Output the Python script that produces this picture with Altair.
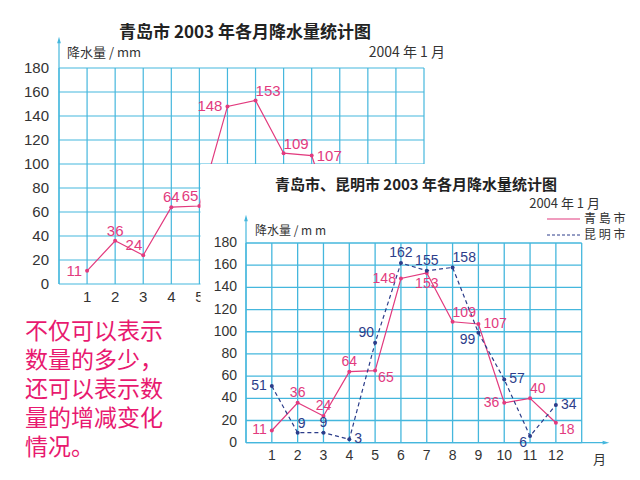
import altair as alt
import pandas as pd

# ---------------- data ----------------
months = list(range(1, 13))
qingdao = [11, 36, 24, 64, 65, 148, 153, 109, 107, 36, 40, 18]
kunming = [51, 9, 9, 3, 90, 162, 155, 158, 99, 57, 6, 34]
y_ticks = [0, 20, 40, 60, 80, 100, 120, 140, 160, 180]
x_ticks = months
grid_months = list(range(0, 14))

title_back = "青岛市 2003 年各月降水量统计图"
title_front = "青岛市、昆明市 2003 年各月降水量统计图"
date_text = "2004 年 1 月"
ylabel_back = "降水量 / mm"
ylabel_front = "降水量 / m m"
legend_names = ["青 島 市", "昆 明 市"]
x_unit = "月"
note_lines = ["不仅可以表示", "数量的多少，", "还可以表示数", "量的增减变化", "情况。"]

# ---------------- label placement (style) ----------------
pos_back_qd = ['l', 't', 'tl', 't', 'tl', 'l', 'tr', 'tr', 'r', 'l', 'tr', 'br']
pos_front_qd = ['l', 't', 't', 't', 'br', 'l', 'b', 'tr', 'r', 'l', 'tr', 'br']
pos_front_km = ['l', 'tr', 't', 'r', 'tl', 't', 't', 'tr', 'bl', 'r', 'bl', 'r']

STY = {
    'l': dict(align='right', dx=-5, dy=0),
    'r': dict(align='left', dx=5, dy=0),
    't': dict(align='center', dx=0, dy=-10),
    'b': dict(align='center', dx=0, dy=11),
    'tl': dict(align='right', dx=-1, dy=-10),
    'tr': dict(align='left', dx=0, dy=-9),
    'bl': dict(align='right', dx=-3, dy=7),
    'br': dict(align='left', dx=3, dy=7),
}

PINK = "#e23a7e"
NAVY = "#2c3d8a"
GRID = "#45b7dd"
TXT = "#333333"
NOTE = "#e8196f"
CJK = "Noto Sans CJK SC"
NUM = "Liberation Sans"

bx = alt.Scale(domain=[0, 13], range=[59, 424], nice=False, zero=False)
by = alt.Scale(domain=[0, 180], range=[284, 68], nice=False, zero=False)
fx = alt.Scale(domain=[0, 13], range=[246, 581.7], nice=False, zero=False)
fy = alt.Scale(domain=[0, 180], range=[442.7, 243], nice=False, zero=False)

# the front panel hides the back chart beyond these months
BACK_LABEL_LAST = 9
BACK_TICK_LAST = 5

one = pd.DataFrame({'a': [0]})


def X(f, s):
    return alt.X(f, type='quantitative', scale=s, axis=None)


def Y(f, s):
    return alt.Y(f, type='quantitative', scale=s, axis=None)


def grid(sx, sy, w):
    v = pd.DataFrame({'m': grid_months, 'lo': 0, 'hi': 180})
    h = pd.DataFrame({'t': y_ticks, 'lo': 0, 'hi': 13})
    vr = alt.Chart(v).mark_rule(color=GRID, strokeWidth=w).encode(
        x=X('m', sx), y=Y('lo', sy), y2='hi')
    hr = alt.Chart(h).mark_rule(color=GRID, strokeWidth=w).encode(
        y=Y('t', sy), x=X('lo', sx), x2='hi')
    return [vr, hr]


def series(vals, sx, sy, color, dash=None):
    d = pd.DataFrame({'month': months, 'v': vals})
    kw = dict(color=color, strokeWidth=1.2)
    if dash:
        kw['strokeDash'] = dash
    line = alt.Chart(d).mark_line(**kw).encode(x=X('month', sx), y=Y('v', sy))
    pts = alt.Chart(d).mark_point(filled=True, size=16, color=color, opacity=1).encode(
        x=X('month', sx), y=Y('v', sy))
    return [line, pts]


def labels(vals, pos, sx, sy, color, size, last=12):
    d = pd.DataFrame({'month': months, 'v': vals, 'p': pos})
    d = d[d.month <= last]
    out = []
    for code, st in STY.items():
        sub = d[d.p == code]
        if len(sub) == 0:
            continue
        out.append(alt.Chart(sub).mark_text(color=color, fontSize=size, font=NUM,
                                            baseline='middle', **st).encode(
            x=X('month', sx), y=Y('v', sy), text=alt.Text('v:Q')))
    return out


def ticklabels(sx, sy, size, ydx, xdy, last=12):
    yl = alt.Chart(pd.DataFrame({'t': y_ticks, 'z': 0})).mark_text(
        align='right', baseline='middle', dx=ydx, fontSize=size, font=NUM, color=TXT).encode(
        x=X('z', sx), y=Y('t', sy), text=alt.Text('t:Q'))
    xl = alt.Chart(pd.DataFrame({'m': [m for m in x_ticks if m <= last], 'z': 0})).mark_text(
        align='center', baseline='middle', dy=xdy, fontSize=size, font=NUM, color=TXT).encode(
        x=X('m', sx), y=Y('z', sy), text=alt.Text('m:Q'))
    return [yl, xl]


def vtext(txt, x, y, size, color=TXT, align='left', bold=False, font=CJK):
    return alt.Chart(one).mark_text(text=txt, fontSize=size, color=color, align=align,
                                    baseline='middle', font=font,
                                    fontWeight='bold' if bold else 'normal').encode(
        x=alt.value(x), y=alt.value(y))


def vrule(x, y, x2=None, y2=None, color=GRID, w=1.2, dash=None):
    kw = dict(color=color, strokeWidth=w)
    if dash:
        kw['strokeDash'] = dash
    enc = dict(x=alt.value(x), y=alt.value(y))
    if x2 is not None:
        enc['x2'] = alt.value(x2)
    if y2 is not None:
        enc['y2'] = alt.value(y2)
    return alt.Chart(one).mark_rule(**kw).encode(**enc)


def arrow(x, y, shape):
    return alt.Chart(one).mark_point(shape=shape, filled=True, size=45, color=GRID, opacity=1).encode(
        x=alt.value(x), y=alt.value(y))


UP = "M0,-1L0.55,1L-0.55,1Z"
RIGHT = "M1,0L-1,0.55L-1,-0.55Z"

layers = []
# ---------- back chart ----------
layers += grid(bx, by, 1.2)
layers.append(vrule(59, 42, y2=284))
layers.append(arrow(59, 40, UP))
layers += series(qingdao, bx, by, PINK)
layers += labels(qingdao, pos_back_qd, bx, by, PINK, 15, last=BACK_LABEL_LAST)
layers += ticklabels(bx, by, 15, -10, 13, last=BACK_TICK_LAST)
layers.append(vtext(title_back, 245, 33, 17, color="#222222", align='center', bold=True))
layers.append(vtext(ylabel_back, 67, 53, 13))
layers.append(vtext(date_text, 445, 53, 14, align='right'))

# ---------- white panel ----------
layers.append(alt.Chart(one).mark_rect(color='white').encode(
    x=alt.value(200.5), x2=alt.value(640), y=alt.value(164), y2=alt.value(480)))

# ---------- front chart ----------
layers += grid(fx, fy, 1.3)
layers.append(vrule(246, 220, y2=442.7))
layers.append(arrow(246, 218, UP))
layers.append(vrule(246, 442.7, x2=604))
layers.append(arrow(606, 442.7, RIGHT))
layers += series(qingdao, fx, fy, PINK)
layers += series(kunming, fx, fy, NAVY, dash=[4, 3])
layers += labels(qingdao, pos_front_qd, fx, fy, PINK, 14)
layers += labels(kunming, pos_front_km, fx, fy, NAVY, 14)
layers += ticklabels(fx, fy, 14, -9, 13)
layers.append(vtext(title_front, 416, 185, 15, color="#222222", align='center', bold=True))
layers.append(vtext(date_text, 600, 204, 13, align='right'))
layers.append(vtext(ylabel_front, 255, 231, 12))
layers.append(vrule(547, 219, x2=580, color=PINK, w=1.2))
layers.append(vrule(547, 235, x2=580, color=NAVY, w=1.0, dash=[3, 2]))
layers.append(vtext(legend_names[0], 584, 219, 12))
layers.append(vtext(legend_names[1], 584, 235, 12))
layers.append(vtext(x_unit, 593, 460, 13))

# ---------- note (one text mark per line) ----------
NOTE_Y = [332, 361, 390, 419, 448]
for line, yy in zip(note_lines, NOTE_Y):
    layers.append(vtext(line, 25, yy, 23, color=NOTE))

chart = alt.layer(*layers).resolve_scale(x='independent', y='independent').properties(
    width=640, height=480, padding=0, background='white',
    autosize=alt.AutoSizeParams(type='none')
).configure_view(stroke=None)

chart.save("out.html", embed_options={"renderer": "svg", "actions": False})
